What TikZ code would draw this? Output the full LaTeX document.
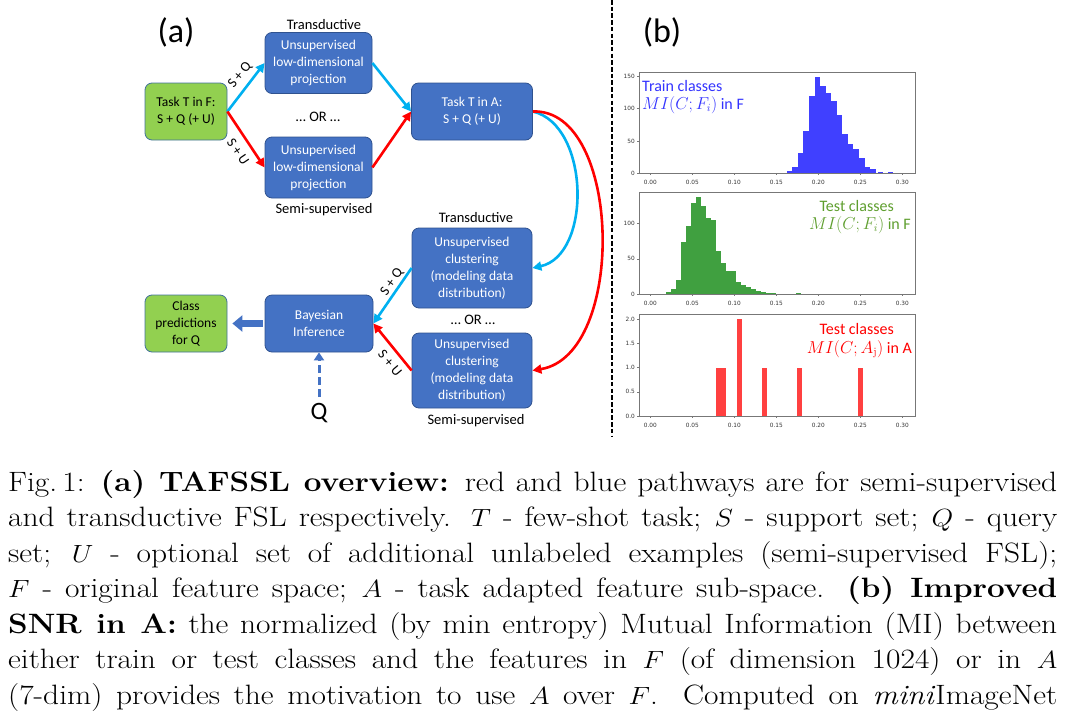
\documentclass[tikz,border=0pt]{standalone}
\usepackage{fontspec}
\usepackage{graphicx}
\usetikzlibrary{arrows.meta}
\newfontfamily\calibri{Carlito}
\newfontfamily\djv{DejaVu Sans}
\definecolor{boxblue}{HTML}{4472C4}
\definecolor{boxedge}{HTML}{2F528F}
\definecolor{boxgreen}{HTML}{92D050}
\definecolor{gedge}{HTML}{41719C}
\definecolor{cyanarr}{HTML}{00B0F0}
\definecolor{redarr}{HTML}{FF0000}
\definecolor{hblue}{HTML}{4040FF}
\definecolor{hgreen}{HTML}{40A040}
\definecolor{hred}{HTML}{FF4040}
\definecolor{tgreen}{HTML}{5E9E2E}
\definecolor{tblue}{HTML}{3333FF}
\definecolor{axgray}{HTML}{777777}
\definecolor{ticktxt}{HTML}{333333}
\begin{document}
\begin{tikzpicture}[x=1pt,y=-1pt,
  bx/.style={rounded corners=7pt, line width=0.8pt, align=center, inner sep=0pt,
    font=\calibri\fontsize{13.5}{17}\selectfont},
  bbox/.style={bx, fill=boxblue, draw=boxedge, text=white},
  gbox/.style={bx, fill=boxgreen, draw=gedge, text=black},
  txt/.style={font=\calibri\fontsize{14.5}{17}\selectfont, inner sep=0pt},
  lbl/.style={font=\calibri\fontsize{14}{17}\selectfont, inner sep=0pt},
  arr/.style={line width=2.6pt, -{Triangle[length=9pt,width=9pt]}},
  carr/.style={arr, color=cyanarr},
  rarr/.style={arr, color=redarr},
  axis/.style={draw=axgray, line width=0.6pt},
  tck/.style={draw=axgray, line width=0.5pt},
  tl/.style={font=\djv\fontsize{5.8}{7}\selectfont, text=ticktxt, inner sep=0pt},
  ptxt/.style={font=\calibri\fontsize{16}{19}\selectfont, inner sep=0pt}
]
\useasboundingbox (0,0) rectangle (1065,718);

% ---------- (a) ----------
\node[font=\calibri\fontsize{34}{40}\selectfont, inner sep=0pt] (la) at (176,32) {(a)};
\node[font=\calibri\fontsize{34}{40}\selectfont, inner sep=0pt] (lb) at (662,32) {(b)};

\node[gbox, minimum width=82pt, minimum height=57pt] (tf) at (186,111.5) {Task T in F:\\S + Q (+ U)};
\node[bbox, minimum width=107pt, minimum height=61pt] (tp) at (318.5,63) {Unsupervised\\low-dimensional\\projection};
\node[bbox, minimum width=107pt, minimum height=61pt] (bp) at (318.5,167.5) {Unsupervised\\low-dimensional\\projection};
\node[bbox, minimum width=121pt, minimum height=57pt] (ta) at (472,111.5) {Task T in A:\\S + Q (+ U)};
\node[bbox, minimum width=120pt, minimum height=80pt] (tc) at (472,268) {Unsupervised\\clustering\\(modeling data\\distribution)};
\node[bbox, minimum width=120pt, minimum height=75pt] (bc) at (472,370.5) {Unsupervised\\clustering\\(modeling data\\distribution)};
\node[bbox, minimum width=108pt, minimum height=57pt] (bi) at (319,323.5) {Bayesian\\Inference};
\node[gbox, minimum width=82pt, minimum height=57pt] (cp) at (186,323.5) {Class\\predictions\\for Q};

\node[txt] (lt1) at (324,25) {Transductive};
\node[txt] (ls1) at (324,210) {Semi-supervised};
\node[txt] (lt2) at (476,218) {Transductive};
\node[txt] (ls2) at (476,421) {Semi-supervised};
\node[txt] (or1) at (318,117) {… OR …};
\node[txt] (or2) at (473,320) {… OR …};
\node[font=\calibri\fontsize{25}{29}\selectfont, inner sep=0pt] (q) at (319,413) {Q};

\draw[carr] (tf.east) -- (tp.west);
\draw[rarr] (tf.east) -- (bp.west);
\draw[carr] (tp.east) -- (ta.west);
\draw[rarr] (bp.east) -- (ta.west);
\draw[carr] (ta.east) .. controls (590,125) and (592,255) .. (tc.east);
\draw[rarr] (ta.east) .. controls (622,108) and (627,355) .. (bc.east);
\draw[carr] (tc.west) -- (bi.east);
\draw[rarr] (bc.west) -- (bi.east);
\draw[line width=7pt, color=boxblue, -{Triangle[length=10pt,width=16pt]}, shorten <=2pt, shorten >=5pt] (bi.west) -- (cp.east);
\draw[line width=3pt, color=boxblue, dash pattern=on 8pt off 4pt, -{Triangle[length=8pt,width=10pt]}, shorten <=6pt] (q.north) -- (bi.south);

\node[lbl, rotate=52] (sq1) at (240,75) {S + Q};
\node[lbl, rotate=-56] (su1) at (238,152) {S + U};
\node[lbl, rotate=55] (sq2) at (392,282) {S + Q};
\node[lbl, rotate=-50] (su2) at (390,363) {S + U};

% ---------- separator ----------
\coordinate (st) at (612,0);
\coordinate (sb) at (612,436);
\draw[line width=1.8pt, dash pattern=on 4.5pt off 2.2pt] (st) -- (sb);

% ---------- (b) top histogram ----------
\foreach \c [count=\i from 0] in {4,10,31,66,120,149,135,124,112,90,61,46,38,23,10,7}
  \fill[hblue] ({786.7+\i*5.56},173.3) rectangle ({786.7+(\i+1)*5.56},{173.3-\c*0.6467});
\fill[hblue] (878.3,173.3) rectangle (883.3,172.4);
\fill[hblue] (888.3,173.3) rectangle (893.3,172.4);
\draw[axis] (639,72.5) rectangle (915,173.3);
\foreach \k/\t in {0/0.00,1/0.05,2/0.10,3/0.15,4/0.20,5/0.25,6/0.30}{
  \draw[tck] ({650.3+\k*42},173.3) -- ({650.3+\k*42},175.3);
  \node[tl] (xa\k) at ({650.3+\k*42},182.7) {\t};
}
\foreach \v/\t in {0/0,50/50,100/100,150/150}{
  \draw[tck] (637,{173.3-\v*0.6467}) -- (639,{173.3-\v*0.6467});
  \node[tl, anchor=east] (ya\v) at (635,{173.3-\v*0.6467}) {\t};
}
\node[ptxt, anchor=west, text=tblue] (trn1) at (642,86) {Train classes};
\node[ptxt, anchor=west, text=tblue] (trn2) at (642,105) {$MI(C;F_i)$ in F};

% ---------- (b) middle histogram ----------
\foreach \c [count=\i from 0] in {3,8,20,73,96,129,137,124,108,104,61,44,33,33,18,13,10,7,5,3,2,2,1,1,0,0,2}
  \fill[hgreen] ({666+\i*5},294.3) rectangle ({666+(\i+1)*5},{294.3-\c*0.71});
\draw[axis] (639,192.5) rectangle (915,294.3);
\foreach \k/\t in {0/0.00,1/0.05,2/0.10,3/0.15,4/0.20,5/0.25,6/0.30}{
  \draw[tck] ({650.3+\k*42},294.3) -- ({650.3+\k*42},296.3);
  \node[tl] (xb\k) at ({650.3+\k*42},303.7) {\t};
}
\foreach \v/\t in {0/0,50/50,100/100}{
  \draw[tck] (637,{294.3-\v*0.71}) -- (639,{294.3-\v*0.71});
  \node[tl, anchor=east] (yb\v) at (635,{294.3-\v*0.71}) {\t};
}
\node[ptxt, anchor=east, text=tgreen] (tst1) at (894,206) {Test classes};
\node[ptxt, anchor=east, text=tgreen] (tst2) at (911,225) {$MI(C;F_i)$ in F};

% ---------- (b) bottom histogram ----------
\foreach \a/\b/\c in {716/721/1,721/726/1,736.7/741.7/2,761.7/766.7/1,797.3/802.3/1,858.3/863.3/1}
  \fill[hred] (\a,416) rectangle (\b,{416-\c*48.5});
\draw[axis] (639,314.3) rectangle (915,416);
\foreach \k/\t in {0/0.00,1/0.05,2/0.10,3/0.15,4/0.20,5/0.25,6/0.30}{
  \draw[tck] ({650.3+\k*42},416) -- ({650.3+\k*42},418);
  \node[tl] (xc\k) at ({650.3+\k*42},425.5) {\t};
}
\foreach \v/\t [count=\j] in {0/0.0,0.5/0.5,1/1.0,1.5/1.5,2/2.0}{
  \draw[tck] (637,{416-\v*48.5}) -- (639,{416-\v*48.5});
  \node[tl, anchor=east] (yc\j) at (635,{416-\v*48.5}) {\t};
}
\node[ptxt, anchor=east, text=redarr] (tr1) at (894,329) {Test classes};
\node[ptxt, anchor=east, text=redarr] (tr2) at (912,349) {$MI(C;A_{\mathrm{j}})$ in A};

% ---------- caption ----------
\node[anchor=base west, inner sep=0pt] (cap) at (8,491) {\scalebox{1.122}[1]{\begin{minipage}[t]{935pt}\fontsize{28}{35.5}\selectfont\setlength{\parindent}{0pt}%
\hbox to \linewidth{Fig.\,1: \textbf{(a) TAFSSL overview:} red and blue pathways are for semi-supervised}
\hbox to \linewidth{and transductive FSL respectively. $T$ - few-shot task; $S$ - support set; $Q$ - query}
\hbox to \linewidth{set; $U$ - optional set of additional unlabeled examples (semi-supervised FSL);}
\hbox to \linewidth{$F$ - original feature space; $A$ - task adapted feature sub-space. \textbf{(b) Improved}}
\hbox to \linewidth{\textbf{SNR in A:} the normalized (by min entropy) Mutual Information (MI) between}
\hbox to \linewidth{either train or test classes and the features in $F$ (of dimension 1024) or in $A$}
\hbox to \linewidth{(7-dim) provides the motivation to use $A$ over $F$. Computed on \textit{mini}ImageNet}
\end{minipage}}};
\end{tikzpicture}
\end{document}
